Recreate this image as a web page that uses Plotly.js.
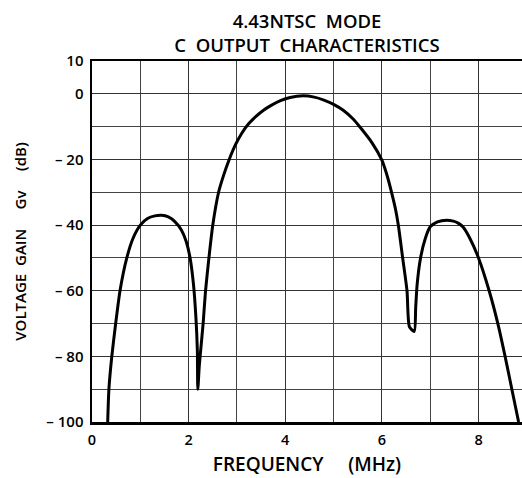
<!DOCTYPE html>
<html>
<head>
<meta charset="utf-8">
<script src="https://cdn.plot.ly/plotly-3.0.1.min.js"></script>
<style>html,body{margin:0;padding:0;background:#fff;}#chart{width:522px;height:478px;}</style>
</head>
<body>
<div id="chart"></div>
<script>
// Frequency (MHz) and voltage gain (dB)
var freqMHz = [0.325, 0.35, 0.41, 0.49, 0.58, 0.72, 0.85, 1.00, 1.15, 1.30, 1.44, 1.58, 1.72, 1.85, 1.95, 2.03, 2.10, 2.15, 2.18, 2.19,
  2.22, 2.25, 2.30, 2.35, 2.42, 2.50, 2.62, 2.72, 2.84, 2.97, 3.10, 3.25, 3.40, 3.55, 3.70, 3.90, 4.10, 4.37, 4.60, 4.80, 5.00,
  5.20, 5.40, 5.55, 5.80, 6.00, 6.10, 6.20, 6.28, 6.34, 6.43, 6.52, 6.57, 6.67, 6.70, 6.73, 6.80, 6.90, 7.00, 7.15, 7.34,
  7.48, 7.58, 7.68, 7.82, 8.00, 8.22, 8.40, 8.55, 8.69, 8.83];
var gainDB = [-100, -90, -80, -70, -60, -50, -44, -40, -38, -37.2, -37, -37.5, -39, -41.5, -45, -50, -58, -68, -78, -90,
  -83, -78, -70, -60, -50, -40, -30, -25, -20, -15.5, -12, -9, -6.8, -5.0, -3.6, -2.1, -1.1, -0.6, -1.0, -1.9, -3.2,
  -5.0, -7.6, -10.2, -15, -20.2, -24.5, -30, -35, -40, -50, -60, -71, -72.4, -65, -58, -50, -44, -40.5, -39, -38.5,
  -38.8, -39.4, -40.6, -44, -50, -60, -70, -80, -90, -100];

var xTickVals = [0, 2, 4, 6, 8];
var xTickText = ["0", "2", "4", "6", "8"];
var yTickVals = [10, 0, -20, -40, -60, -80, -100];
var yTickText = ["10", "0", "\u2013 20", "\u2013 40", "\u2013 60", "\u2013 80", "\u2013 100"];

var FONT = "Open Sans, Noto Sans, DejaVu Sans, sans-serif";

var trace = {
  x: freqMHz, y: gainDB, type: "scatter", mode: "lines",
  line: {color: "#000", width: 3, shape: "spline", smoothing: 0.6},
  hoverinfo: "skip"
};

var layout = {
  width: 522, height: 478,
  margin: {l: 92, r: 0, t: 61, b: 56, pad: 0},
  paper_bgcolor: "#fff", plot_bgcolor: "#fff",
  showlegend: false,
  font: {family: FONT, color: "#000", size: 14},
  title: {
    text: "4.43NTSC  MODE<br>C  OUTPUT  CHARACTERISTICS",
    font: {family: FONT, size: 18.5, color: "#000", weight: 600},
    xref: "paper", x: 0.5, xanchor: "center",
    yref: "container", y: 0.941, yanchor: "middle"
  },
  xaxis: {
    range: [0, 8.9], fixedrange: true,
    tickmode: "array", tickvals: xTickVals, ticktext: xTickText,
    ticks: "", ticklabelstandoff: 3,
    tickfont: {family: FONT, size: 14.5, color: "#000", weight: 600},
    showgrid: true, gridcolor: "#333", gridwidth: 1,
    minor: {tickmode: "linear", tick0: 0, dtick: 1, showgrid: true, gridcolor: "#444", gridwidth: 1, ticks: ""},
    zeroline: false,
    showline: true, linecolor: "#000", linewidth: 2.5, mirror: true,
    title: {text: "FREQUENCY     (MHz)", font: {family: FONT, size: 19, color: "#000", weight: 600}, standoff: 10},
    automargin: false
  },
  yaxis: {
    range: [-100, 10], fixedrange: true,
    tickmode: "array", tickvals: yTickVals, ticktext: yTickText,
    ticks: "", ticklabelstandoff: 3,
    tickfont: {family: FONT, size: 15, color: "#000", weight: 600},
    showgrid: true, gridcolor: "#333", gridwidth: 1,
    minor: {tickmode: "linear", tick0: 0, dtick: 10, showgrid: true, gridcolor: "#444", gridwidth: 1, ticks: ""},
    zeroline: false,
    showline: true, linecolor: "#000", linewidth: 2.5, mirror: false,
    title: {text: "VOLTAGE  GAIN     Gv     (dB)", font: {family: FONT, size: 15, color: "#000", weight: 600}, standoff: 16},
    automargin: false
  }
};

Plotly.newPlot("chart", [trace], layout, {staticPlot: true, displayModeBar: false});
</script>
</body>
</html>
